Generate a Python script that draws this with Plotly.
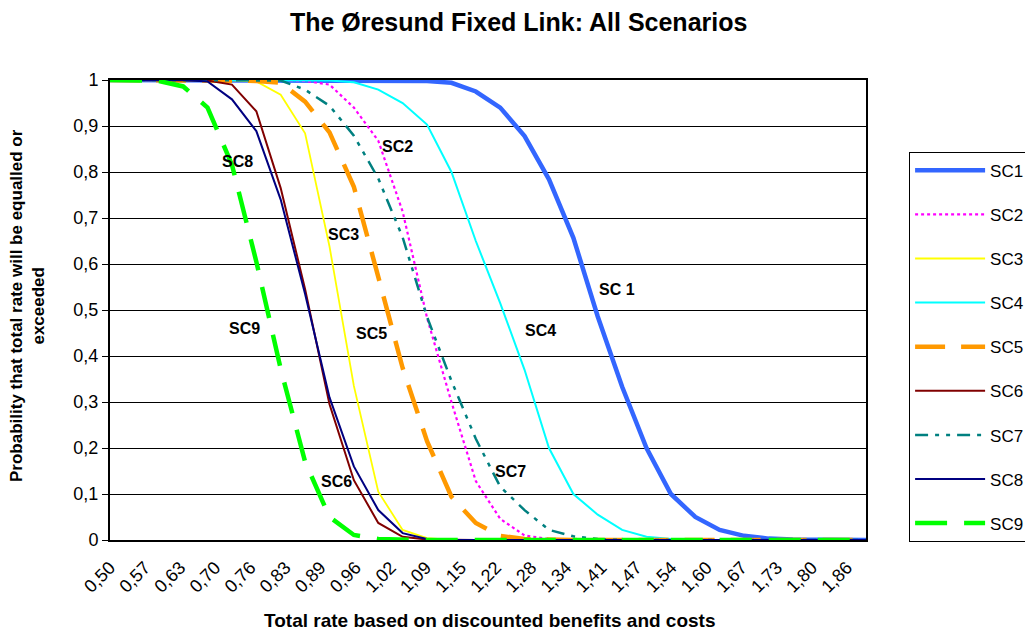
import plotly.graph_objects as go

# x positions of the data points (total rate)
x_vals = [0.5, 0.5452, 0.5903, 0.6355, 0.6806, 0.7258, 0.7710, 0.8161, 0.8613, 0.9065,
          0.9516, 0.9968, 1.0419, 1.0871, 1.1323, 1.1774, 1.2226, 1.2677, 1.3129, 1.3581,
          1.4032, 1.4484, 1.4935, 1.5387, 1.5839, 1.6290, 1.6742, 1.7194, 1.7645, 1.8097,
          1.8548, 1.9000]

sc1 = [1, 1, 1, 1, 1, 1, 1, 1, 1, 1, 1, 1, 1, 0.998, 0.994, 0.975, 0.94, 0.878, 0.784, 0.657,
       0.486, 0.333, 0.2, 0.1, 0.05, 0.022, 0.009, 0.003, 0.001, 0, 0, 0]
sc2 = [1, 1, 1, 1, 1, 1, 1, 1, 0.998, 0.99, 0.94, 0.868, 0.714, 0.483, 0.30, 0.128, 0.046, 0.01,
       0.002, 0, 0, 0, 0, 0, 0, 0, 0, 0, 0, 0, 0, 0]
sc3 = [1, 1, 1, 1, 1, 0.999, 0.997, 0.968, 0.884, 0.638, 0.335, 0.105, 0.022, 0.004,
       0, 0, 0, 0, 0, 0, 0, 0, 0, 0, 0, 0, 0, 0, 0, 0, 0, 0]
sc4 = [1, 1, 1, 1, 1, 1, 1, 1, 1, 0.999, 0.995, 0.979, 0.95, 0.903, 0.80, 0.65, 0.515, 0.37,
       0.2, 0.1, 0.055, 0.022, 0.007, 0.002, 0, 0, 0, 0, 0, 0, 0, 0]
sc5 = [1, 1, 1, 1, 1, 1, 0.998, 0.994, 0.953, 0.886, 0.768, 0.572, 0.374, 0.215, 0.094, 0.037,
       0.009, 0.002, 0, 0, 0, 0, 0, 0, 0, 0, 0, 0, 0, 0, 0, 0]
sc6 = [1, 1, 1, 1, 0.999, 0.99, 0.932, 0.765, 0.545, 0.295, 0.13, 0.037, 0.007, 0.001,
       0, 0, 0, 0, 0, 0, 0, 0, 0, 0, 0, 0, 0, 0, 0, 0, 0, 0]
sc7 = [1, 1, 1, 1, 1, 1, 1, 0.999, 0.979, 0.944, 0.879, 0.786, 0.658, 0.485, 0.346, 0.22,
       0.116, 0.065, 0.022, 0.008, 0.002, 0, 0, 0, 0, 0, 0, 0, 0, 0, 0, 0]
sc8 = [1, 1, 1, 1, 0.997, 0.958, 0.889, 0.74, 0.535, 0.31, 0.16, 0.065, 0.015, 0.002,
       0, 0, 0, 0, 0, 0, 0, 0, 0, 0, 0, 0, 0, 0, 0, 0, 0, 0]
sc9 = [1, 1, 0.998, 0.986, 0.94, 0.816, 0.605, 0.372, 0.17, 0.05, 0.011, 0.002,
       0, 0, 0, 0, 0, 0, 0, 0, 0, 0, 0, 0, 0, 0, 0, 0, 0, 0, 0, 0]

series_names = ["SC1", "SC2", "SC3", "SC4", "SC5", "SC6", "SC7", "SC8", "SC9"]
series_values = [sc1, sc2, sc3, sc4, sc5, sc6, sc7, sc8, sc9]

tick_vals = [0.5, 0.565, 0.63, 0.695, 0.76, 0.825, 0.89, 0.955, 1.02, 1.085, 1.15,
             1.215, 1.28, 1.345, 1.41, 1.475, 1.54, 1.605, 1.67, 1.735, 1.80, 1.865]
tick_text = ["0,50", "0,57", "0,63", "0,70", "0,76", "0,83", "0,89", "0,96", "1,02", "1,09",
             "1,15", "1,22", "1,28", "1,34", "1,41", "1,47", "1,54", "1,60", "1,67", "1,73",
             "1,80", "1,86"]
y_tick_vals = [0, 0.1, 0.2, 0.3, 0.4, 0.5, 0.6, 0.7, 0.8, 0.9, 1]
y_tick_text = ["0", "0,1", "0,2", "0,3", "0,4", "0,5", "0,6", "0,7", "0,8", "0,9", "1"]

# curve labels inside the plot
label_text = ["SC2", "SC8", "SC3", "SC 1", "SC9", "SC5", "SC4", "SC7", "SC6"]
label_x = [1.032, 0.736, 0.932, 1.438, 0.749, 0.984, 1.297, 1.241, 0.919]
label_y = [0.855, 0.823, 0.664, 0.544, 0.459, 0.450, 0.455, 0.148, 0.128]

styles = {
    "SC1": dict(color="#3366FF", width=4.5, dash="solid"),
    "SC2": dict(color="#FF00FF", width=2.2, dash="3px,3px"),
    "SC3": dict(color="#FFFF00", width=1.8, dash="solid"),
    "SC4": dict(color="#00FFFF", width=2, dash="solid"),
    "SC5": dict(color="#FF9900", width=4.5, dash="30px,16px"),
    "SC6": dict(color="#800000", width=2, dash="solid"),
    "SC7": dict(color="#008080", width=2.5, dash="13px,7px,4px,7px,4px,7px"),
    "SC8": dict(color="#000080", width=2, dash="solid"),
    "SC9": dict(color="#00FF00", width=4.5, dash="32px,17px"),
}

FONT = "Liberation Sans, Arial, sans-serif"

fig = go.Figure()
for name, vals in zip(series_names, series_values):
    fig.add_trace(go.Scatter(x=x_vals, y=vals, mode="lines", name=name,
                             legendgroup=name, line=styles[name]))

for t, lx, ly in zip(label_text, label_x, label_y):
    fig.add_annotation(x=lx, y=ly, text="<b>%s</b>" % t, showarrow=False,
                       font=dict(family=FONT, size=16, color="black"))

fig.add_annotation(xref="paper", yref="paper", x=-0.109, y=0.51, textangle=-90,
                   xanchor="center", yanchor="middle",
                   text="<b>Probability that total rate will be equalled or<br>exceeded</b>",
                   showarrow=False, font=dict(family=FONT, size=17, color="black"))
fig.add_annotation(xref="paper", yref="paper", x=0.502, y=-0.174,
                   xanchor="center", yanchor="middle",
                   text="<b>Total rate based on discounted benefits and costs</b>",
                   showarrow=False, font=dict(family=FONT, size=19, color="black"))

fig.update_layout(
    width=1025, height=631,
    margin=dict(l=110, r=159, t=80, b=91, autoexpand=False),
    paper_bgcolor="white", plot_bgcolor="white",
    font=dict(family=FONT, color="black"),
    title=dict(text="<b>The Øresund Fixed Link: All Scenarios</b>", x=0.506, xref="container",
               xanchor="center", y=0.965, yanchor="middle",
               font=dict(family=FONT, size=25, color="black")),
    showlegend=True,
    legend=dict(x=1.057, y=0.844, xanchor="left", yanchor="top",
                bordercolor="black", borderwidth=1, bgcolor="white",
                font=dict(family=FONT, size=17, color="black"),
                tracegroupgap=19, itemwidth=70),
)
fig.update_xaxes(range=[0.5, 1.9], tickmode="array", tickvals=tick_vals, ticktext=tick_text,
                 tickangle=-45, tickfont=dict(family=FONT, size=18, color="black"),
                 showgrid=False, zeroline=False, showline=True, linecolor="black",
                 linewidth=2, mirror=True, ticks="", ticklabelstandoff=8)
fig.update_yaxes(range=[0, 1], tickmode="array", tickvals=y_tick_vals, ticktext=y_tick_text,
                 tickfont=dict(family=FONT, size=18, color="black"),
                 showgrid=True, gridcolor="black", gridwidth=1, zeroline=False,
                 showline=True, linecolor="black", linewidth=2, mirror=True,
                 ticks="outside", ticklen=6, tickcolor="black")

fig.write_html("out.html")
